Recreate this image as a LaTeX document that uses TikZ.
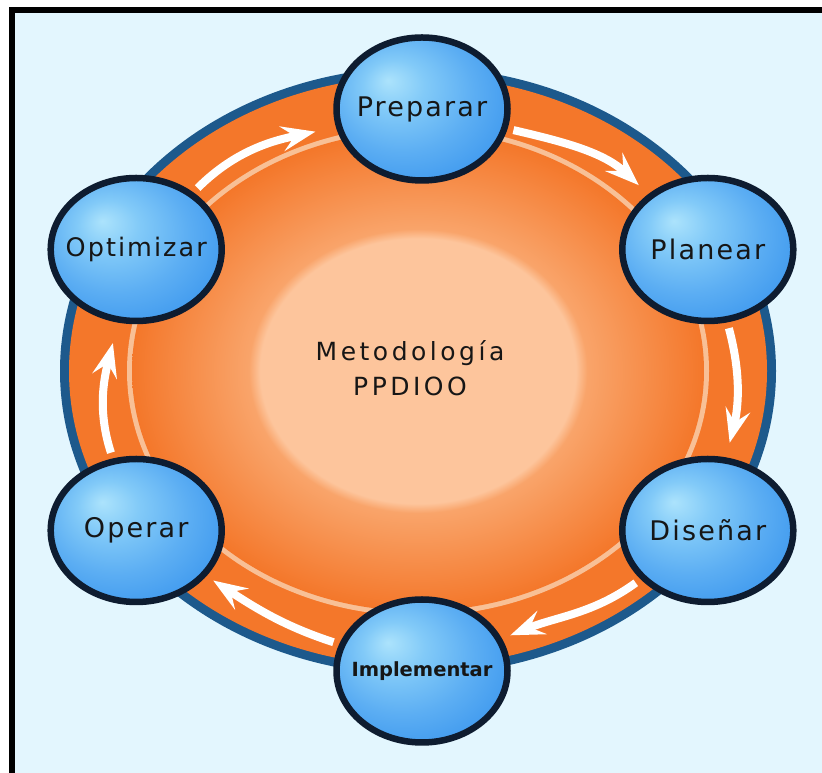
\documentclass[tikz,border=0pt]{standalone}
\usepackage{fontspec}
\usetikzlibrary{shapes.geometric, arrows.meta}
\newfontfamily\phasefont[LetterSpace=8]{DejaVu Sans}
\newfontfamily\hubfont[LetterSpace=14]{DejaVu Sans}
\newfontfamily\plainfont{DejaVu Sans}
\definecolor{mysky}{RGB}{227,246,254}
\definecolor{myringblue}{RGB}{29,89,140}
\definecolor{myorange}{RGB}{244,119,42}
\definecolor{mylightorange}{RGB}{249,164,106}
\definecolor{mypaleorange}{RGB}{248,192,150}
\definecolor{mypeach}{RGB}{253,197,156}
\definecolor{myballhi}{RGB}{172,227,252}
\definecolor{myballlight}{RGB}{130,202,248}
\definecolor{myballmid}{RGB}{92,174,243}
\definecolor{myballdeep}{RGB}{60,151,238}
\definecolor{myballrim}{RGB}{14,28,48}
\definecolor{myink}{RGB}{22,22,22}
\newcommand{\orbitx}{330}
\newcommand{\orbity}{281}
\newcommand{\phasename}[1]{\makebox[0pt]{#1}}
\pgfdeclareradialshading{bubble}{\pgfpoint{-10bp}{10bp}}{color(0bp)=(myballhi); color(9bp)=(myballlight); color(21bp)=(myballmid); color(33bp)=(myballdeep); color(50bp)=(myballdeep)}
\pgfdeclareradialshading{glow}{\pgfpoint{0bp}{0bp}}{color(0bp)=(mypeach); color(13.8bp)=(mypeach); color(14.8bp)=(mylightorange); color(25bp)=(myorange); color(50bp)=(myorange)}
\tikzset{
    phase/.style={ellipse, draw=myballrim, line width=6.5pt, shade, shading=bubble,
        minimum width=171pt, minimum height=143pt, inner sep=0pt, text=myink,
        font=\phasefont\fontsize{27pt}{32pt}\selectfont},
    smallphase/.style={phase, font=\plainfont\bfseries\fontsize{19.5pt}{24pt}\selectfont},
    flow/.style={draw=white, line width=8pt, -{Stealth[length=34pt, width=25pt, inset=13pt, fill=white]},
        shorten <=6pt, shorten >=14pt}
}
\begin{document}
\begin{tikzpicture}[x=1pt, y=1pt]
    \useasboundingbox (0,0) rectangle (822,773);
    \clip (0,0) rectangle (822,773);
    \fill[white] (0,0) rectangle (822,773);
    \fill[mysky] (15,-10) rectangle (840,760);
    \draw[line width=6pt] (12,-20) -- (12,763) -- (840,763);

    \coordinate (ringc) at (418,402);
    \coordinate (hub) at (422,383);
    \fill[myringblue] (ringc) ellipse [x radius=358pt, y radius=304pt];
    \fill[myorange] (ringc) ellipse [x radius=349pt, y radius=295pt];
    \fill[mypaleorange] (ringc) ellipse [x radius=291pt, y radius=245pt];
    \shade[shading=glow] (ringc) ellipse [x radius=286pt, y radius=240pt];

    \node[align=center, text=myink, font=\hubfont\fontsize{25pt}{35pt}\selectfont] (title) at (410,405) {Metodología\\PPDIOO};

    \path (hub)
        +(90:\orbitx pt and \orbity pt) node[phase] (preparar) {\phasename{Preparar}}
        +(30:\orbitx pt and \orbity pt) node[phase] (planear) {\phasename{Planear}}
        +(-30:\orbitx pt and \orbity pt) node[phase] (disenar) {\phasename{Diseñar}}
        +(-90:\orbitx pt and \orbity pt) node[smallphase] (implementar) {\phasename{Implementar}}
        +(-150:\orbitx pt and \orbity pt) node[phase] (operar) {\phasename{Operar}}
        +(150:\orbitx pt and \orbity pt) node[phase, font=\phasefont\fontsize{25.5pt}{30pt}\selectfont] (optimizar) {\phasename{Optimizar}};

    \draw[flow, shorten >=21pt] (optimizar) to[out=45, in=192] (preparar);
    \draw[flow, shorten >=13pt] (preparar) to[out=-13, in=137] (planear);
    \draw[flow, shorten >=15pt] (planear) to[out=-75, in=76] (disenar);
    \draw[flow, shorten >=9pt] (disenar) to[out=216, in=22] (implementar);
    \draw[flow, shorten >=8pt] (implementar) to[out=162, in=327] (operar);
    \draw[flow, shorten >=21pt] (operar) to[out=108, in=256] (optimizar);
\end{tikzpicture}
\end{document}
